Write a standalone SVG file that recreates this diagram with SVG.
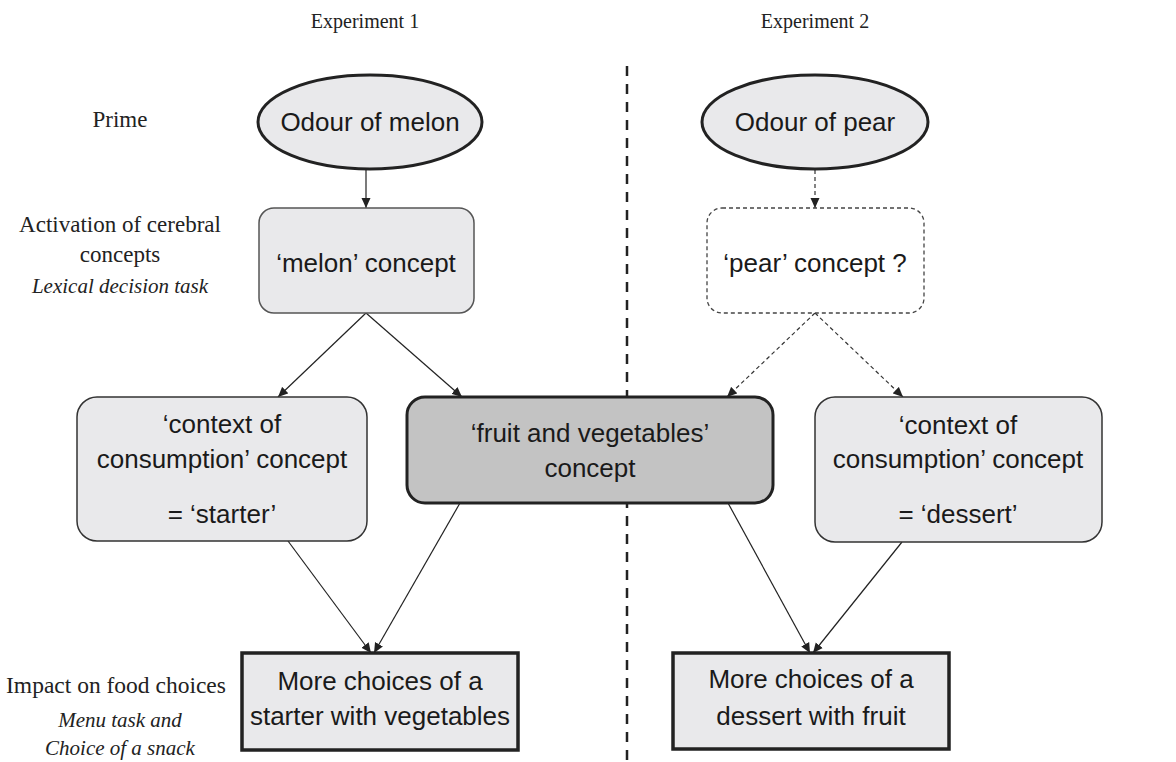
<svg xmlns="http://www.w3.org/2000/svg" width="1176" height="762" viewBox="0 0 1176 762">
<style>
.lbl{font-family:"Liberation Serif","Times New Roman",serif;fill:#222;text-anchor:middle}
.it{font-style:italic}
.t{font-family:"Liberation Sans",Arial,sans-serif;font-size:26px;fill:#1a1a1a;text-anchor:middle}
.light{fill:#e9e9eb}
.edge{stroke:#222;stroke-width:1.2;fill:none;marker-end:url(#ah)}
.dedge{stroke:#333;stroke-width:1.2;fill:none;stroke-dasharray:4 3;marker-end:url(#ah)}
</style>
<defs>
<marker id="ah" viewBox="0 0 10 10" refX="10" refY="5" markerWidth="10" markerHeight="10" markerUnits="userSpaceOnUse" orient="auto">
<path d="M0,0.5 L10,5 L0,9.5 z" fill="#222"/>
</marker>
</defs>
<rect width="1176" height="762" fill="#fff"/>
<g id="labels">
<text class="lbl" x="365" y="28" font-size="20">Experiment 1</text>
<text class="lbl" x="815" y="28" font-size="20">Experiment 2</text>
<text class="lbl" x="120" y="127" font-size="23">Prime</text>
<text class="lbl" x="120" y="232" font-size="23">Activation of cerebral</text>
<text class="lbl" x="120" y="262" font-size="23">concepts</text>
<text class="lbl it" x="120" y="293" font-size="21">Lexical decision task</text>
<text class="lbl" x="116" y="693" font-size="23.5">Impact on food choices</text>
<text class="lbl it" x="120" y="727" font-size="21">Menu task and</text>
<text class="lbl it" x="120" y="755" font-size="21">Choice of a snack</text>
</g>
<line id="divider" x1="627" y1="66" x2="627" y2="762" stroke="#222" stroke-width="2.5" stroke-dasharray="10 8"/>
<g id="connectors">
<line class="edge" x1="366" y1="170" x2="366" y2="208"/>
<line class="dedge" x1="815" y1="170" x2="815" y2="208"/>
<line class="edge" x1="366" y1="313" x2="278" y2="397"/>
<line class="edge" x1="366" y1="313" x2="462" y2="397"/>
<line class="dedge" x1="815" y1="313" x2="727" y2="397"/>
<line class="dedge" x1="815" y1="313" x2="903" y2="397"/>
<line class="edge" x1="288" y1="541" x2="371" y2="653"/>
<line class="edge" x1="460" y1="503" x2="374" y2="653"/>
<line class="edge" x1="728" y1="503" x2="810" y2="653"/>
<line class="edge" x1="902" y1="542" x2="813" y2="653"/>
</g>
<g id="odour-melon">
<ellipse class="light" cx="370" cy="122" rx="112" ry="47" stroke="#222" stroke-width="3"/>
<text class="t" x="370" y="131">Odour of melon</text>
</g>
<g id="odour-pear">
<ellipse class="light" cx="815" cy="122" rx="113" ry="47" stroke="#222" stroke-width="3"/>
<text class="t" x="815" y="131">Odour of pear</text>
</g>
<g id="melon-concept">
<rect class="light" x="259" y="208" width="215" height="105" rx="15" stroke="#555" stroke-width="1.5"/>
<text class="t" x="366" y="272">‘melon’ concept</text>
</g>
<g id="pear-concept">
<rect x="707" y="208" width="217" height="105" rx="15" fill="#fff" stroke="#444" stroke-width="1.3" stroke-dasharray="4 3"/>
<text class="t" x="815" y="272">‘pear’ concept ?</text>
</g>
<g id="context-starter">
<rect class="light" x="77" y="397" width="290" height="144" rx="20" stroke="#333" stroke-width="1.5"/>
<text class="t" x="222" y="433">‘context of</text>
<text class="t" x="222" y="468">consumption’ concept</text>
<text class="t" x="222" y="523">= ‘starter’</text>
</g>
<g id="fruit-veg">
<rect x="407" y="397" width="366" height="106" rx="18" fill="#c3c3c3" stroke="#222" stroke-width="3"/>
<text class="t" x="590" y="442">‘fruit and vegetables’</text>
<text class="t" x="590" y="477">concept</text>
</g>
<g id="context-dessert">
<rect class="light" x="815" y="397" width="287" height="145" rx="20" stroke="#333" stroke-width="1.5"/>
<text class="t" x="958" y="434">‘context of</text>
<text class="t" x="958" y="468">consumption’ concept</text>
<text class="t" x="958" y="523">= ‘dessert’</text>
</g>
<g id="choice-starter">
<rect class="light" x="242" y="653" width="276" height="97" stroke="#222" stroke-width="3.5"/>
<text class="t" x="380" y="690">More choices of a</text>
<text class="t" x="380" y="725">starter with vegetables</text>
</g>
<g id="choice-dessert">
<rect class="light" x="673" y="653" width="276" height="96" stroke="#222" stroke-width="3.5"/>
<text class="t" x="811" y="688">More choices of a</text>
<text class="t" x="811" y="725">dessert with fruit</text>
</g>
</svg>
